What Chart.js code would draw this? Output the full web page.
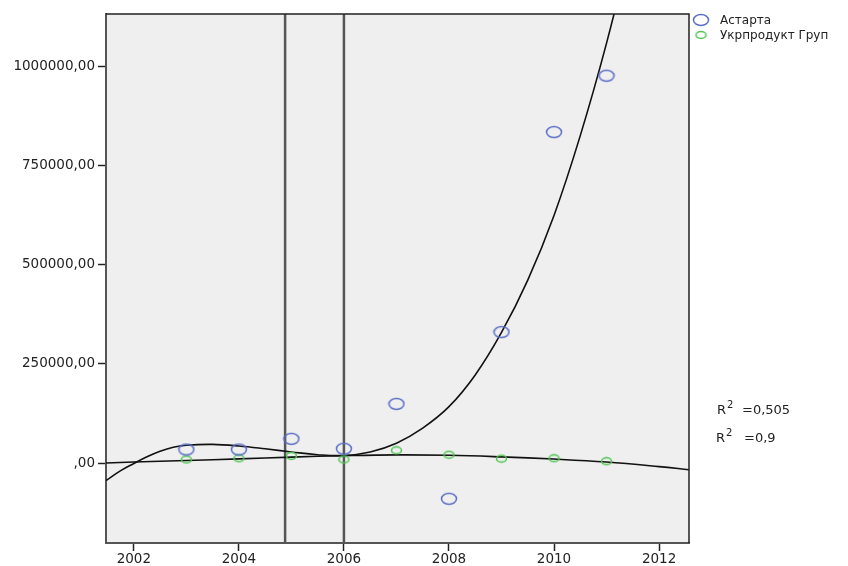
<!DOCTYPE html>
<html>
<head>
<meta charset="utf-8">
<script src="https://cdn.jsdelivr.net/npm/chart.js@4"></script>
<style>
    body { margin: 0; background: #fff; }
    #wrap { width: 848px; height: 566px; }
</style>
</head>
<body>
<div id="wrap"><canvas id="chart" width="848" height="566"></canvas></div>
<script>
// observed values
const years = [2003, 2004, 2005, 2006, 2007, 2008, 2009, 2010, 2011];
const astarta = [34000, 34000, 61000, 36000, 149000, -90000, 330000, 834000, 976000];
const ukrproduct = [9000, 12000, 18000, 9000, 32000, 21000, 11000, 12000, 4500];

// fit curves
const astartaFitYears = [2001.47, 2001.75, 2002.0, 2002.25, 2002.5, 2002.75, 2003.0, 2003.5, 2004.0, 2004.5, 2005.0, 2005.5, 2006.0, 2006.5, 2007.0, 2007.5, 2008.0, 2008.5, 2009.0, 2009.5, 2010.0, 2010.5, 2011.0, 2011.5];
const astartaFitValues = [-44000, -19000, -1000, 16000, 30000, 40000, 45000, 47000, 43000, 36000, 28000, 21000, 19000, 28000, 50000, 88000, 142000, 222000, 329000, 461000, 624000, 825000, 1058000, 1325000];
const ukrFitYears = [2001.47, 2002, 2003, 2004, 2005, 2006, 2007, 2008, 2009, 2010, 2011, 2012, 2012.57];
const ukrFitValues = [0, 2500, 6500, 10500, 15000, 18500, 20500, 19500, 15500, 10000, 2500, -9000, -17000];

// reference lines
const refLines = [2004.88, 2006.0];

// axes
const xTicks = [2002, 2004, 2006, 2008, 2010, 2012];
const yTicks = [0, 250000, 500000, 750000, 1000000];
const xRange = [2001.47, 2012.57];
const yRange = [-201500, 1131500];

const seriesNames = ['Астарта', 'Укрпродукт Груп'];
const rSquared = ['0,505', '0,9'];

const BLUE = '#5a6ec6';
const GREEN = '#4fc451';

function makeEllipse(w, h, color, lw) {
    const c = document.createElement('canvas');
    c.width = w;
    c.height = h;
    const ctx = c.getContext('2d');
    ctx.strokeStyle = color;
    ctx.lineWidth = lw;
    ctx.beginPath();
    ctx.ellipse(w / 2, h / 2, w / 2 - lw, h / 2 - lw, 0, 0, Math.PI * 2);
    ctx.stroke();
    return c;
}

const blueMark = makeEllipse(18, 14, BLUE, 1.5);
const greenMark = makeEllipse(13, 10, GREEN, 1.5);

const toXY = (xs, ys) => xs.map((x, i) => ({ x: x, y: ys[i] }));

const refDatasets = refLines.map(v => ({
    type: 'line',
    data: [{ x: v, y: yRange[0] }, { x: v, y: yRange[1] }],
    borderColor: '#555',
    borderWidth: 2.5,
    pointRadius: 0,
    order: 10
}));

// plot frame, background, legend and R² labels
const decorPlugin = {
    id: 'decor',
    beforeDraw(chart) {
        const { ctx, chartArea: a } = chart;
        ctx.save();
        ctx.fillStyle = '#efefef';
        ctx.fillRect(a.left, a.top, a.right - a.left, a.bottom - a.top);
        ctx.restore();
    },
    afterDraw(chart) {
        const { ctx, chartArea: a } = chart;
        ctx.save();
        ctx.strokeStyle = '#222';
        ctx.lineWidth = 1.5;
        ctx.beginPath();
        ctx.moveTo(a.left, a.top);
        ctx.lineTo(a.right, a.top);
        ctx.lineTo(a.right, a.bottom);
        ctx.stroke();

        // legend
        ctx.drawImage(blueMark, 701 - blueMark.width / 2, 20 - blueMark.height / 2);
        ctx.drawImage(greenMark, 701 - greenMark.width / 2, 35 - greenMark.height / 2);
        ctx.fillStyle = '#222';
        ctx.font = '12px "DejaVu Sans"';
        ctx.textBaseline = 'alphabetic';
        ctx.fillText(seriesNames[0], 720, 24);
        ctx.fillText(seriesNames[1], 720, 39);

        // R² labels
        const rows = [[717, 414, 742], [716, 442, 744]];
        rows.forEach((r, i) => {
            ctx.font = '13px "DejaVu Sans"';
            ctx.fillText('R', r[0], r[1]);
            ctx.font = '10px "DejaVu Sans"';
            ctx.fillText('2', r[0] + 10, r[1] - 6);
            ctx.font = '13px "DejaVu Sans"';
            ctx.fillText('=' + rSquared[i], r[2], r[1]);
        });
        ctx.restore();
    }
};

new Chart(document.getElementById('chart'), {
    type: 'scatter',
    data: {
        datasets: [
            ...refDatasets,
            {
                type: 'line',
                data: toXY(astartaFitYears, astartaFitValues),
                borderColor: '#111',
                borderWidth: 1.6,
                pointRadius: 0,
                tension: 0.4,
                order: 5
            },
            {
                type: 'line',
                data: toXY(ukrFitYears, ukrFitValues),
                borderColor: '#111',
                borderWidth: 1.6,
                pointRadius: 0,
                tension: 0.4,
                order: 5
            },
            {
                label: seriesNames[1],
                data: toXY(years, ukrproduct),
                pointStyle: greenMark,
                order: 2
            },
            {
                label: seriesNames[0],
                data: toXY(years, astarta),
                pointStyle: blueMark,
                order: 1
            }
        ]
    },
    options: {
        responsive: false,
        animation: false,
        layout: {
            padding: { top: 14, right: 159, left: 0, bottom: 0 }
        },
        plugins: {
            legend: { display: false },
            tooltip: { enabled: false }
        },
        scales: {
            x: {
                type: 'linear',
                min: xRange[0],
                max: xRange[1],
                afterBuildTicks: scale => { scale.ticks = xTicks.map(v => ({ value: v })); },
                afterFit: scale => { scale.height = 23; },
                grid: {
                    drawOnChartArea: false,
                    tickLength: 8,
                    tickColor: '#222',
                    tickWidth: 1.5
                },
                border: { color: '#555', width: 2 },
                ticks: {
                    padding: 0,
                    color: '#222',
                    font: { family: '"DejaVu Sans"', size: 13.5 },
                    maxRotation: 0,
                    callback: v => String(v)
                }
            },
            y: {
                min: yRange[0],
                max: yRange[1],
                afterBuildTicks: scale => { scale.ticks = yTicks.map(v => ({ value: v })); },
                afterFit: scale => { scale.width = 106; },
                grid: {
                    drawOnChartArea: false,
                    tickLength: 8,
                    tickColor: '#222',
                    tickWidth: 1.5
                },
                border: { color: '#555', width: 2 },
                ticks: {
                    padding: 3,
                    color: '#222',
                    font: { family: '"DejaVu Sans"', size: 13.5 },
                    callback: v => (v === 0 ? '' : String(v)) + ',00'
                }
            }
        }
    },
    plugins: [decorPlugin]
});
</script>
</body>
</html>
